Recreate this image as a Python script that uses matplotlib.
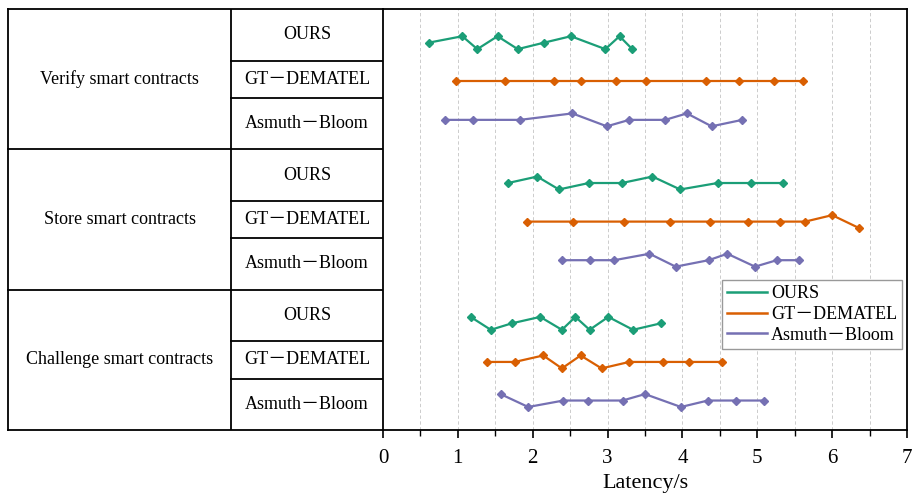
import matplotlib
matplotlib.use("Agg")
import matplotlib.pyplot as plt
from matplotlib.lines import Line2D

plt.rcParams['font.family'] = ['Liberation Serif', 'Noto Sans CJK SC', 'DejaVu Sans']

# 任务与方法
tasks = ["Verify smart contracts", "Store smart contracts", "Challenge smart contracts"]
methods = ["OURS", "GT－DEMATEL", "Asmuth－Bloom"]
colors = ["#1b9e77", "#d95f02", "#7570b3"]

# 延迟 (s) 与每个点的上下起伏 (1 上, -1 下)
verify_ours = [0.61, 1.06, 1.26, 1.53, 1.80, 2.15, 2.51, 2.97, 3.16, 3.33]
verify_ours_dy = [0, 1, -1, 1, -1, 0, 1, -1, 1, -1]
verify_gt = [0.98, 1.63, 2.29, 2.64, 3.11, 3.51, 4.31, 4.75, 5.22, 5.61]
verify_gt_dy = [0, 0, 0, 0, 0, 0, 0, 0, 0, 0]
verify_ab = [0.83, 1.20, 1.83, 2.53, 2.99, 3.29, 3.77, 4.06, 4.39, 4.80]
verify_ab_dy = [0, 0, 0, 1, -1, 0, 0, 1, -1, 0]

store_ours = [1.67, 2.06, 2.35, 2.75, 3.19, 3.60, 3.97, 4.47, 4.92, 5.35]
store_ours_dy = [0, 1, -1, 0, 0, 1, -1, 0, 0, 0]
store_gt = [1.92, 2.54, 3.22, 3.83, 4.37, 4.87, 5.30, 5.64, 6.00, 6.36]
store_gt_dy = [0, 0, 0, 0, 0, 0, 0, 0, 1, -1]
store_ab = [2.39, 2.76, 3.09, 3.56, 3.91, 4.35, 4.60, 4.97, 5.26, 5.56]
store_ab_dy = [0, 0, 0, 1, -1, 0, 1, -1, 0, 0]

challenge_ours = [1.17, 1.44, 1.72, 2.10, 2.39, 2.57, 2.76, 3.01, 3.34, 3.71]
challenge_ours_dy = [1, -1, 0, 1, -1, 1, -1, 1, -1, 0]
challenge_gt = [1.39, 1.76, 2.14, 2.39, 2.64, 2.92, 3.29, 3.74, 4.09, 4.53]
challenge_gt_dy = [0, 0, 1, -1, 1, -1, 0, 0, 0, 0]
challenge_ab = [1.57, 1.94, 2.41, 2.74, 3.20, 3.50, 3.98, 4.34, 4.71, 5.09]
challenge_ab_dy = [1, -1, 0, 0, 0, 1, -1, 0, 0, 0]

series = [
    [(verify_ours, verify_ours_dy), (verify_gt, verify_gt_dy), (verify_ab, verify_ab_dy)],
    [(store_ours, store_ours_dy), (store_gt, store_gt_dy), (store_ab, store_ab_dy)],
    [(challenge_ours, challenge_ours_dy), (challenge_gt, challenge_gt_dy), (challenge_ab, challenge_ab_dy)],
]

# 行布局 (每组高度为 1)
row_lines = [0.369, 0.634]
row_text = [0.184, 0.50, 0.817]
row_center = [0.24, 0.515, 0.79]
bump = 0.046

W, H = 917, 496
fig = plt.figure(figsize=(W / 100, H / 100), dpi=100)
left, right, top, bottom, split = 8, 907, 9, 430, 383
col = 231

ax_t = fig.add_axes([left / W, (H - bottom) / H, (split - left) / W, (bottom - top) / H])
ax = fig.add_axes([split / W, (H - bottom) / H, (right - split) / W, (bottom - top) / H])

# 表格
ax_t.set_xlim(left, split)
ax_t.set_ylim(3, 0)
ax_t.axis('off')
lw = 1.3
for g in range(4):
    ax_t.axhline(g, color='black', lw=lw, clip_on=False)
ax_t.axvline(left, color='black', lw=lw, clip_on=False)
ax_t.axvline(col, color='black', lw=lw)
for g, task in enumerate(tasks):
    ax_t.text((left + col) / 2, g + 0.5, task, ha='center', va='center', fontsize=13)
    for r in row_lines:
        ax_t.plot([col, split], [g + r, g + r], color='black', lw=lw)
    for k, m in enumerate(methods):
        ax_t.text((col + split) / 2, g + row_text[k], m, ha='center', va='center', fontsize=13)

# 折线
ax.set_xlim(0, 7)
ax.set_ylim(3, 0)
for g in range(3):
    for k in range(3):
        xs, dy = series[g][k]
        ys = [g + row_center[k] - d * bump for d in dy]
        ax.plot(xs, ys, color=colors[k], lw=1.6, marker='D', markersize=4)

for v in [i * 0.5 for i in range(1, 14)]:
    ax.axvline(v, color='#c4c4c4', lw=0.6, ls=(0, (4, 3)), zorder=0)

ax.set_yticks([])
ax.set_xticks(range(8))
ax.set_xticks([i + 0.5 for i in range(7)], minor=True)
ax.tick_params(axis='x', which='major', direction='out', length=6, width=1.2, labelsize=15, pad=8)
ax.tick_params(axis='x', which='minor', direction='out', length=4, width=1.0)
for s in ax.spines.values():
    s.set_linewidth(1.3)
ax.set_xlabel("Latency/s", fontsize=16, labelpad=4)

handles = [Line2D([], [], color=c, lw=1.8) for c in colors]
leg = ax.legend(handles, methods, loc='upper left', bbox_to_anchor=((722 - split) / (right - split), (bottom - 280) / (bottom - top)),
                borderaxespad=0, fontsize=13, handlelength=2.2, handletextpad=0.2, labelspacing=0.2,
                borderpad=0.3, fancybox=False, edgecolor='#999999', framealpha=1)
leg.get_frame().set_linewidth(1.0)

fig.savefig("out.png", dpi=100)
